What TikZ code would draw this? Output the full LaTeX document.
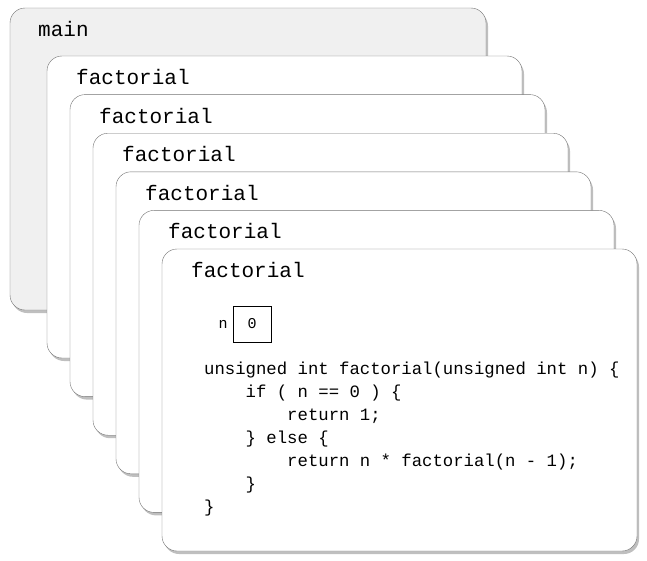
\documentclass[tikz,border=0pt]{standalone}
\usepackage{fontspec}
\setmonofont{Liberation Mono}
\usetikzlibrary{shadows,positioning}
\tikzset{
  frame/.style={draw=black!55, rounded corners=15pt, fill=white,
    drop shadow={shadow xshift=2pt, shadow yshift=-3pt, opacity=0.5}},
  title/.style={anchor=west, inner sep=0pt, font=\ttfamily\fontsize{21}{21}\selectfont},
  code/.style={anchor=north west, inner sep=0pt, align=left,
    font=\ttfamily\fontsize{17.3}{23}\selectfont}
}
\begin{document}
\begin{tikzpicture}[x=1pt,y=-1pt]
  \useasboundingbox (0,0) rectangle (647,560);
  % main frame
  \draw[frame, fill=black!6] (10,8) rectangle (486,310);
  \node[title] (tmain) at (38,29) {main};
  % factorial frames
  \foreach \k in {1,...,6}{
    \pgfmathsetmacro{\fx}{47+23*(\k-1)}
    \pgfmathsetmacro{\fy}{56+38.6*(\k-1)}
    \draw[frame] (\fx,\fy) rectangle ++(475,302);
    \node[title] (t\k) at (\fx+29,\fy+21) {factorial};
  }
  % variable n
  \node[draw, minimum width=38pt, minimum height=36pt, inner sep=0pt,
    font=\ttfamily\fontsize{15}{15}\selectfont] (nbox) at (252,324) {0};
  \node[left=5pt of nbox, inner sep=0pt,
    font=\ttfamily\fontsize{15}{15}\selectfont] (nlab) {n};
  % code
  \node[code] (src) at (204,362) {unsigned int factorial(unsigned int n) \{\\
\hspace*{2.4em}\makebox[0pt][l]{if ( n == 0 ) \{}\\
\hspace*{4.8em}\makebox[0pt][l]{return 1;}\\
\hspace*{2.4em}\makebox[0pt][l]{\} else \{}\\
\hspace*{4.8em}\makebox[0pt][l]{return n * factorial(n - 1);}\\
\hspace*{2.4em}\makebox[0pt][l]{\}}\\
\}};
\end{tikzpicture}
\end{document}
